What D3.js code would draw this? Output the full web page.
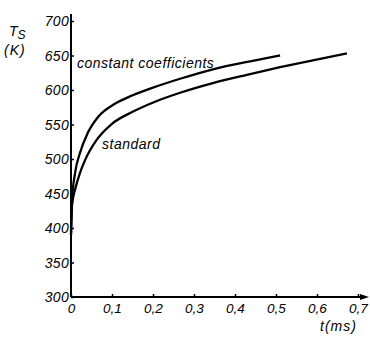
<!DOCTYPE html>
<html>
<head>
<meta charset="utf-8">
<script src="https://cdn.jsdelivr.net/npm/d3@7"></script>
<style>
  body { margin: 0; background: #fff; }
  text { font-family: "Liberation Sans", "DejaVu Sans", sans-serif; font-style: italic; fill: #000; }
</style>
</head>
<body>
<div id="viz"></div>
<script>
// data
const X_TICKS = [0, 0.1, 0.2, 0.3, 0.4, 0.5, 0.6, 0.7];
const X_LABELS = ["0", "0,1", "0,2", "0,3", "0,4", "0,5", "0,6", "0,7"];
const Y_TICKS = [300, 350, 400, 450, 500, 550, 600, 650, 700];

// constant coefficients
const timeConst = [0, 0.0025, 0.01, 0.022, 0.041, 0.066, 0.107, 0.149, 0.198, 0.27, 0.346, 0.44, 0.51];
const tempConst = [390, 440, 480, 509, 538, 561, 580, 592, 603, 617, 630, 642, 650];

// standard
const timeStd = [0, 0.0025, 0.011, 0.022, 0.034, 0.063, 0.1, 0.149, 0.205, 0.266, 0.346, 0.429, 0.51, 0.59, 0.673];
const tempStd = [390, 433, 458, 480, 498, 528, 551, 568, 583, 596, 610, 622, 633, 643, 653];

const width = 370, height = 338;
const svg = d3.select("#viz").append("svg").attr("width", width).attr("height", height);

const x = d3.scaleLinear().domain([0, 0.7]).range([71, 358]);
const y = d3.scaleLinear().domain([300, 700]).range([297, 21]);

// axes
const xAxis = svg.append("g").attr("transform", "translate(0," + y(300) + ")")
  .call(d3.axisBottom(x).tickValues(X_TICKS).tickSize(-3).tickFormat((d, i) => X_LABELS[i]).tickPadding(6));
xAxis.select(".domain").remove();
xAxis.append("line").attr("x1", x(0)).attr("x2", 366).attr("stroke", "#000").attr("stroke-width", 2);
xAxis.append("path").attr("d", "M360,-3L369,0L360,3Z").attr("fill", "#000");

const yAxis = svg.append("g").attr("transform", "translate(" + x(0) + ",0)")
  .call(d3.axisLeft(y).tickValues(Y_TICKS).tickSize(-3).tickPadding(2));
yAxis.select(".domain").remove();
yAxis.append("line").attr("y1", y(300)).attr("y2", 14).attr("stroke", "#000").attr("stroke-width", 2);

svg.selectAll(".tick line").attr("stroke", "#000").attr("stroke-width", 1.5);
xAxis.selectAll(".tick text").attr("font-size", 13.5).attr("fill", "#000");
yAxis.selectAll(".tick text").attr("font-size", 14).attr("letter-spacing", 0.3).attr("fill", "#000").attr("dy", "0.35em");

// curves
const line = d3.line().x(d => x(d[0])).y(d => y(d[1])).curve(d3.curveMonotoneX);
svg.append("path").datum(d3.zip(timeConst, tempConst)).attr("d", line)
  .attr("fill", "none").attr("stroke", "#000").attr("stroke-width", 2.3);
svg.append("path").datum(d3.zip(timeStd, tempStd)).attr("d", line)
  .attr("fill", "none").attr("stroke", "#000").attr("stroke-width", 2.3);

// labels
svg.append("text").attr("x", 77).attr("y", 68).attr("font-size", 14).attr("letter-spacing", 0.5).text("constant coefficients");
svg.append("text").attr("x", 102).attr("y", 149).attr("font-size", 14).attr("letter-spacing", 0.5).text("standard");

const ts = svg.append("text").attr("x", 9).attr("y", 36).attr("font-size", 14);
ts.append("tspan").text("T");
ts.append("tspan").attr("dy", 3).attr("font-size", 12).text("S");
svg.append("text").attr("x", 4).attr("y", 55).attr("font-size", 14).attr("letter-spacing", 1).text("(K)");
svg.append("text").attr("x", 320).attr("y", 331).attr("font-size", 14).attr("letter-spacing", 1).text("t(ms)");
</script>
</body>
</html>
